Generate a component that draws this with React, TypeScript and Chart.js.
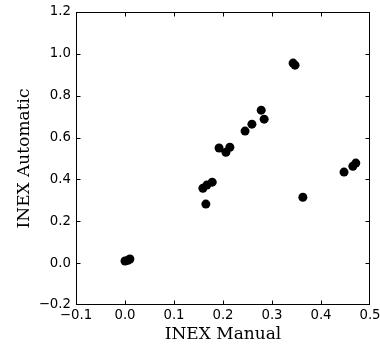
import React, { useEffect, useRef } from "react";
import { Chart, registerables } from "chart.js";

Chart.register(...registerables);

const manualX: number[] = [
  0.0, 0.006, 0.01,
  0.159, 0.167, 0.178, 0.165,
  0.192, 0.206, 0.214,
  0.245, 0.259, 0.278, 0.284,
  0.343, 0.347,
  0.363,
  0.447, 0.465, 0.471,
];
const automaticY: number[] = [
  0.01, 0.014, 0.02,
  0.358, 0.373, 0.387, 0.282,
  0.55, 0.53, 0.554,
  0.631, 0.664, 0.731, 0.688,
  0.956, 0.946,
  0.315,
  0.435, 0.463, 0.478,
];
const xTicks: number[] = [-0.1, 0.0, 0.1, 0.2, 0.3, 0.4, 0.5];
const yTicks: number[] = [-0.2, 0.0, 0.2, 0.4, 0.6, 0.8, 1.0, 1.2];
const xTitle = "INEX Manual";
const yTitle = "INEX Automatic";

const fmt = (v: number | string) => Number(v).toFixed(1).replace("-", "\u2212");

const framePlugin = {
  id: "frame",
  afterDraw(chart: any) {
    const { ctx, chartArea } = chart;
    const { left, right, top, bottom } = chartArea;
    const xs = chart.scales.x;
    const ys = chart.scales.y;
    ctx.save();
    ctx.strokeStyle = "#000";
    ctx.lineWidth = 1;
    const L = Math.round(left) + 0.5;
    const R = Math.round(right) - 0.5;
    const T = Math.round(top) + 0.5;
    const B = Math.round(bottom) - 0.5;
    ctx.strokeRect(L, T, R - L, B - T);
    const tl = 4;
    ctx.beginPath();
    xTicks.forEach((v) => {
      const px = Math.min(Math.max(Math.round(xs.getPixelForValue(v)) + 0.5, L), R);
      ctx.moveTo(px, B);
      ctx.lineTo(px, B - tl);
      ctx.moveTo(px, T);
      ctx.lineTo(px, T + tl);
    });
    yTicks.forEach((v) => {
      const py = Math.min(Math.max(Math.round(ys.getPixelForValue(v)) + 0.5, T), B);
      ctx.moveTo(L, py);
      ctx.lineTo(L + tl, py);
      ctx.moveTo(R, py);
      ctx.lineTo(R - tl, py);
    });
    ctx.stroke();
    ctx.restore();
  },
};

export default function App() {
  const ref = useRef<HTMLCanvasElement | null>(null);
  useEffect(() => {
    if (!ref.current) return;
    const points = manualX.map((x, i) => ({ x, y: automaticY[i] }));
    const tickFont = { family: "'DejaVu Sans'", size: 13.3 };
    const titleFont = { family: "'DejaVu Serif'", size: 17 };
    const chart = new Chart(ref.current, {
      type: "scatter",
      data: {
        datasets: [
          {
            data: points,
            backgroundColor: "#000",
            borderWidth: 0,
            pointRadius: 4.5,
          },
        ],
      },
      options: {
        responsive: false,
        animation: false,
        devicePixelRatio: 1,
        layout: { padding: { left: 14, right: 10, top: 12, bottom: 0 } },
        plugins: { legend: { display: false }, tooltip: { enabled: false } },
        scales: {
          x: {
            type: "linear",
            min: -0.1,
            max: 0.5,
            afterBuildTicks: (s: any) => {
              s.ticks = xTicks.map((v) => ({ value: v }));
            },
            afterFit: (s: any) => {
              s.height = 42;
              s.paddingLeft = 0;
              s.paddingRight = 0;
            },
            grid: { display: false, drawTicks: false },
            border: { display: false },
            ticks: {
              color: "#000",
              font: tickFont,
              padding: 3,
              maxRotation: 0,
              autoSkip: false,
              callback: (v: any) => fmt(v),
            },
            title: { display: true, text: xTitle, color: "#000", font: titleFont, padding: { top: 0, bottom: 2 } },
          },
          y: {
            type: "linear",
            min: -0.2,
            max: 1.2,
            afterBuildTicks: (s: any) => {
              s.ticks = yTicks.map((v) => ({ value: v }));
            },
            afterFit: (s: any) => {
              s.width = 62;
              s.paddingTop = 0;
              s.paddingBottom = 0;
            },
            grid: { display: false, drawTicks: false },
            border: { display: false },
            ticks: {
              color: "#000",
              font: tickFont,
              padding: 5,
              autoSkip: false,
              callback: (v: any) => fmt(v),
            },
            title: { display: true, text: yTitle, color: "#000", font: titleFont, padding: 0 },
          },
        },
      },
      plugins: [framePlugin],
    });
    return () => chart.destroy();
  }, []);
  return (
    <div style={{ position: "absolute", left: 0, top: 0, width: 380, height: 347, background: "#fff" }}>
      <canvas ref={ref} width={380} height={347} style={{ display: "block" }} />
    </div>
  );
}
